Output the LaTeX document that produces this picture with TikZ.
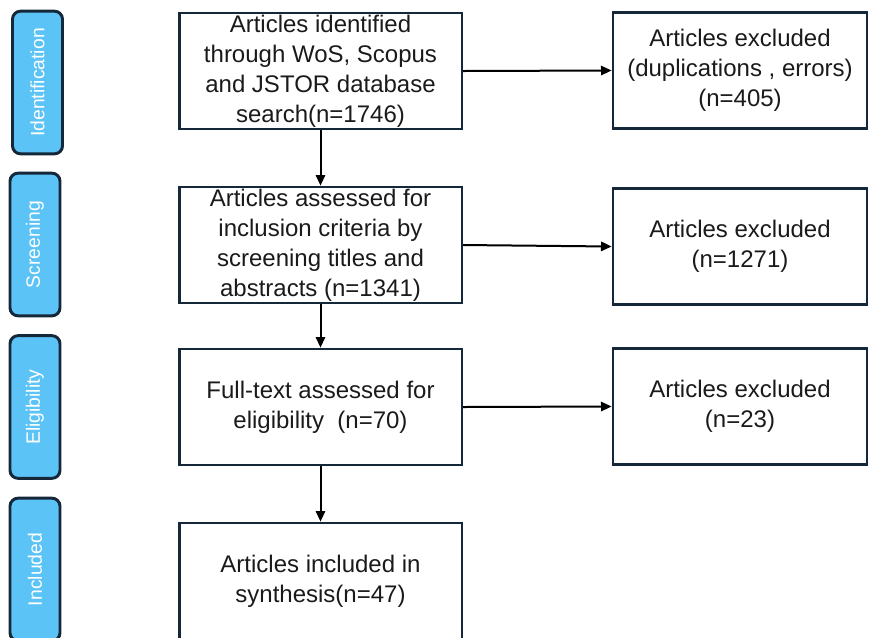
\documentclass[tikz,border=0pt]{standalone}
\usepackage{fontspec}
\setmainfont{Liberation Sans}
\usetikzlibrary{arrows.meta}
\definecolor{phase}{HTML}{5BC3F5}
\definecolor{edge}{HTML}{14283A}
\definecolor{ink}{HTML}{1A1A1A}

\begin{document}
\begin{tikzpicture}[x=0.75pt,y=-0.75pt,
  stage/.style={draw=edge,line width=2.2pt,fill=phase,rounded corners=6pt,rotate=90,
    minimum width=107pt,minimum height=37.5pt,inner sep=0pt,text=white,
    font=\fontsize{14.5}{16}\selectfont},
  flowbox/.style={draw=edge,line width=2pt,minimum width=212pt,minimum height=87pt,
    inner sep=0pt,align=center,text=ink,font=\fontsize{18}{22.5}\selectfont},
  exclbox/.style={flowbox,minimum width=190.5pt},
  link/.style={line width=1.5pt,-{Triangle[length=8pt,width=7pt]}}]
  \useasboundingbox (0,0) rectangle (871,637);

  % Phase labels
  \node[stage] (idn) at (37.5,82.5) {Identification};
  \node[stage] (scr) at (35,244.5) {Screening};
  \node[stage] (elg) at (35,407) {Eligibility};
  \node[stage] (inc) at (35,569.5) {Included};

  % Main flow
  \node[flowbox] (found) at (320.5,71) {Articles identified\\through WoS, Scopus\\and JSTOR database\\search(n=1746)};
  \node[flowbox] (screened) at (320.5,245) {Articles assessed for\\inclusion criteria by\\screening titles and\\abstracts (n=1341)};
  \node[flowbox] (fulltext) at (320.5,407) {Full-text assessed for\\eligibility~ (n=70)};
  \node[flowbox] (synth) at (320.5,581) {Articles included in\\synthesis(n=47)};

  % Exclusions
  \node[exclbox] (exdup) at (740,70.5) {Articles excluded\\(duplications , errors)\\(n=405)};
  \node[exclbox] (exscr) at (740,246.5) {Articles excluded\\(n=1271)};
  \node[exclbox] (exelg) at (740,406.5) {Articles excluded\\(n=23)};

  \draw[link] (found) -- (screened);
  \draw[link] (screened) -- (fulltext);
  \draw[link] (fulltext) -- (synth);
  \draw[link] (found.east) -- (exdup.west);
  \draw[link] (screened.east) -- (exscr.west);
  \draw[link] (fulltext.east) -- (exelg.west);
\end{tikzpicture}
\end{document}
